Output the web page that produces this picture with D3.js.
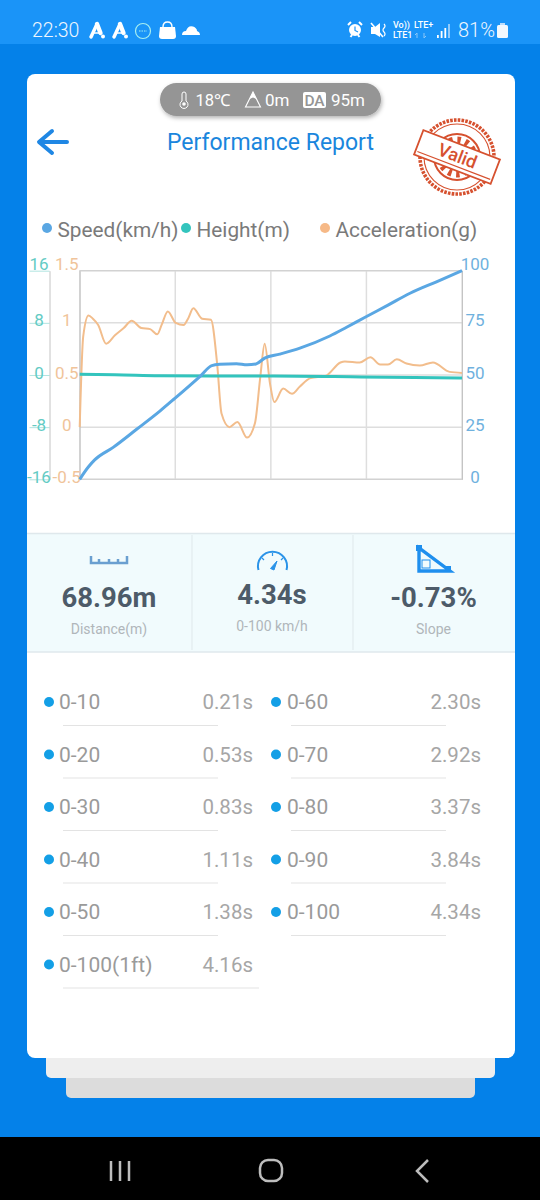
<!DOCTYPE html>
<html>
<head>
<meta charset="utf-8">
<style>
  html, body { margin: 0; padding: 0; background: #0481e9; }
  svg { display: block; }
  text { font-family: Roboto, sans-serif; }
</style>
<script src="https://cdn.jsdelivr.net/npm/d3@7"></script>
</head>
<body>
<script>
'use strict';

// chart values
var speedTime = [0, 0.10, 0.17, 0.38, 0.65, 0.91, 1.08, 1.37, 1.50, 1.59, 1.78, 1.90, 2.00, 2.10, 2.27, 2.50, 2.84, 3.03, 3.24, 3.50, 3.75, 4.05, 4.34];
var speedValues = [0, 6, 9.3, 15.3, 24.1, 32.7, 38.8, 49.5, 54.5, 55.1, 55.4, 54.9, 55.3, 58.1, 60, 62.9, 68.7, 72.9, 77.7, 83.5, 89.2, 94.7, 100];

var heightTime = [0, 0.4, 0.9, 1.5, 2.2, 3.2, 3.8, 4.34];
var heightValues = [0.1, 0.05, -0.1, -0.15, -0.15, -0.3, -0.4, -0.45];

var accelTime = [0, 0.04, 0.10, 0.15, 0.21, 0.30, 0.40, 0.50, 0.59, 0.70, 0.80, 0.88, 0.93, 1.00, 1.09, 1.18, 1.23, 1.29, 1.39, 1.49, 1.56, 1.61, 1.70, 1.79, 1.90, 1.99, 2.05, 2.10, 2.16, 2.21, 2.31, 2.41, 2.50, 2.62, 2.79, 2.96, 3.01, 3.18, 3.30, 3.41, 3.50, 3.60, 3.71, 3.86, 4.01, 4.20, 4.34];
var accelValues = [0, 0.87, 1.07, 1.04, 0.98, 0.80, 0.88, 0.95, 1.02, 0.95, 0.94, 0.89, 0.98, 1.11, 1.00, 0.98, 1.04, 1.14, 1.04, 1.03, 0.61, 0.13, 0, 0.05, -0.10, 0.04, 0.48, 0.80, 0.42, 0.24, 0.37, 0.32, 0.39, 0.47, 0.49, 0.62, 0.63, 0.62, 0.67, 0.60, 0.60, 0.65, 0.61, 0.59, 0.62, 0.53, 0.52];

var speedTicks = [0, 25, 50, 75, 100];
var heightTicks = [-16, -8, 0, 8, 16];
var accelTicks = [-0.5, 0, 0.5, 1, 1.5];
var timeTicks = [1.085, 2.17, 3.255];

var legendLabels = ['Speed(km/h)', 'Height(m)', 'Acceleration(g)'];
var summaryValues = ['68.96m', '4.34s', '-0.73%'];
var summaryLabels = ['Distance(m)', '0-100 km/h', 'Slope'];
var lapLeftLabels = ['0-10', '0-20', '0-30', '0-40', '0-50', '0-100(1ft)'];
var lapLeftTimes = ['0.21s', '0.53s', '0.83s', '1.11s', '1.38s', '4.16s'];
var lapRightLabels = ['0-60', '0-70', '0-80', '0-90', '0-100'];
var lapRightTimes = ['2.30s', '2.92s', '3.37s', '3.84s', '4.34s'];

var SPEED_COLOR = '#5aa7e3', HEIGHT_COLOR = '#33c4bd', ACCEL_COLOR = '#f2bd8c';

var svg = d3.select('body').append('svg').attr('width', 540).attr('height', 1200);

function addText(parent, x, y, str, size, fill, anchor, weight) {
  return parent.append('text')
    .attr('x', x).attr('y', y)
    .attr('font-size', size)
    .attr('fill', fill)
    .attr('text-anchor', anchor || 'start')
    .attr('font-weight', weight || 400)
    .text(str);
}

// BEGIN page background
svg.append('rect').attr('width', 540).attr('height', 1200).attr('fill', '#0481e9');
svg.append('rect').attr('width', 540).attr('height', 44).attr('fill', '#1a94f8');
svg.append('rect').attr('y', 1137).attr('width', 540).attr('height', 63).attr('fill', '#000');
svg.append('rect').attr('x', 66).attr('y', 1060).attr('width', 409).attr('height', 38).attr('rx', 5).attr('fill', '#dcdcdc');
svg.append('rect').attr('x', 46).attr('y', 1040).attr('width', 449).attr('height', 38).attr('rx', 5).attr('fill', '#eeeeee');
svg.append('rect').attr('x', 27).attr('y', 74).attr('width', 488).attr('height', 984).attr('rx', 8).attr('fill', '#fff');
// END page background

// BEGIN status bar
var statusBar = svg.append('g');
addText(statusBar, 32, 36.5, '22:30', 19.5, '#eef6fe', 'start', 300);
[97, 120].forEach(function(x) {
  var a = statusBar.append('g').attr('transform', 'translate(' + x + ',30)');
  a.append('path').attr('d', 'M-6 7L0 -6').attr('stroke', '#fff').attr('stroke-width', 3.4).attr('stroke-linecap', 'round');
  a.append('path').attr('d', 'M0 -6L3.5 3').attr('stroke', '#fff').attr('stroke-width', 4.4).attr('stroke-linecap', 'round');
  a.append('path').attr('d', 'M-3 3H3').attr('stroke', '#fff').attr('stroke-width', 1.5);
  a.append('circle').attr('cx', 6).attr('cy', 6.5).attr('r', 2).attr('fill', '#fff');
});
statusBar.append('circle').attr('cx', 143).attr('cy', 31).attr('r', 7.5).attr('fill', 'none').attr('stroke', '#a6eef0').attr('stroke-width', 1.2);
statusBar.append('path').attr('d', 'M139 31H147').attr('stroke', '#a6eef0').attr('stroke-width', 1).attr('stroke-dasharray', '1.5 1');
statusBar.append('path').attr('d', 'M160 27H175L176 36Q176 39 173 39H162Q159 39 159 36Z').attr('fill', '#fff');
statusBar.append('path').attr('d', 'M163 27Q163 22 167.5 22Q172 22 172 27').attr('fill', 'none').attr('stroke', '#fff').attr('stroke-width', 1.4);
statusBar.append('path').attr('d', 'M182 35Q182 31 186 31Q188 25 193 26.5Q197 28 197 31Q200 32 200 35Z').attr('fill', '#fff');

statusBar.append('circle').attr('cx', 355).attr('cy', 30).attr('r', 6).attr('fill', '#fff');
statusBar.append('path').attr('d', 'M355 26.5V30.5L358 32').attr('fill', 'none').attr('stroke', '#1a94f8').attr('stroke-width', 1.2);
statusBar.append('path').attr('d', 'M348 25L351 22M362 25L359 22M350.5 37L352 35M359.5 37L358 35').attr('stroke', '#fff').attr('stroke-width', 2);
statusBar.append('path').attr('d', 'M371 27H375L380 23V37L375 34H371Z').attr('fill', '#fff');
statusBar.append('path').attr('d', 'M371 23L383 37').attr('stroke', '#fff').attr('stroke-width', 1.6);
statusBar.append('path').attr('d', 'M384 24Q386 26 384 28Q382 30 384 32Q386 34 384 36').attr('fill', 'none').attr('stroke', '#fff').attr('stroke-width', 1.2);
addText(statusBar, 393, 28, 'Vo))', 9, '#fff', 'start', 500);
addText(statusBar, 414, 28, 'LTE+', 9, '#fff', 'start', 500);
addText(statusBar, 393, 38, 'LTE1', 9, '#fff', 'start', 500);
statusBar.append('path').attr('d', 'M417 38V33M415 35L417 33M424 33V38M426 36L424 38').attr('fill', 'none').attr('stroke', '#8cc7f8').attr('stroke-width', 1);
[3, 7, 10, 14].forEach(function(h, i) {
  statusBar.append('rect').attr('x', 437 + i * 3.7).attr('y', 38 - h)
    .attr('width', 1.8).attr('height', h).attr('fill', i < 3 ? '#fff' : '#9fd0fb');
});
addText(statusBar, 458, 36.5, '81%', 20, '#eef6fe', 'start', 300);
statusBar.append('rect').attr('x', 497).attr('y', 25).attr('width', 11).attr('height', 13).attr('rx', 1.5).attr('fill', '#f2f8fe');
statusBar.append('rect').attr('x', 500).attr('y', 23).attr('width', 5).attr('height', 2).attr('fill', '#bcdcfb');
// END status bar

// BEGIN header
var defs = svg.append('defs');
var shadow = defs.append('filter').attr('id', 'pill-shadow').attr('x', '-10%').attr('y', '-30%').attr('width', '120%').attr('height', '170%');
shadow.append('feDropShadow').attr('dx', 1).attr('dy', 2).attr('stdDeviation', 2).attr('flood-color', '#000').attr('flood-opacity', 0.3);

svg.append('rect').attr('x', 160).attr('y', 83).attr('width', 221).attr('height', 33).attr('rx', 16.5)
  .attr('fill', '#959595').attr('filter', 'url(#pill-shadow)');
svg.append('path').attr('d', 'M182 94a2 2 0 0 1 4 0v7a4 4 0 1 1 -4 0Z').attr('fill', 'none').attr('stroke', '#fff').attr('stroke-width', 1);
svg.append('circle').attr('cx', 184).attr('cy', 104).attr('r', 1.8).attr('fill', '#fff');
addText(svg, 195.5, 106, '18℃', 16.5, '#fff');
svg.append('path').attr('d', 'M253 92L245.5 107H260.5Z').attr('fill', 'none').attr('stroke', '#fff').attr('stroke-width', 1.1);
svg.append('path').attr('d', 'M253 92L249.5 99L253 97.5L256.5 99Z').attr('fill', '#fff');
addText(svg, 265, 106, '0m', 17, '#fff');
svg.append('rect').attr('x', 303).attr('y', 92).attr('width', 23).attr('height', 16).attr('rx', 2).attr('fill', '#fff');
addText(svg, 314.5, 105.5, 'DA', 15.5, '#959595', 'middle', 500);
addText(svg, 331, 106, '95m', 17, '#fff');

svg.append('path').attr('d', 'M67 142H40M52 131L39 142L52 153')
  .attr('fill', 'none').attr('stroke', '#1f87e4').attr('stroke-width', 4).attr('stroke-linecap', 'round').attr('stroke-linejoin', 'round');
addText(svg, 270.5, 150, 'Performance Report', 23, '#1a86dd', 'middle');

// stamp
var stamp = svg.append('g').attr('transform', 'translate(457,157)').attr('fill', 'none').attr('stroke', '#d6512f');
stamp.append('circle').attr('r', 37).attr('stroke-width', 3.6).attr('stroke-dasharray', '2.6 1.2');
stamp.append('circle').attr('r', 33).attr('stroke-width', 1.1);
stamp.append('circle').attr('r', 23).attr('stroke-width', 2);
stamp.append('circle').attr('r', 17).attr('stroke-width', 7).attr('stroke-dasharray', '3.4 4.6');
var band = stamp.append('g').attr('transform', 'rotate(21)');
band.append('rect').attr('x', -41).attr('y', -13).attr('width', 82).attr('height', 26).attr('fill', '#fff').attr('stroke-width', 1.8);
band.append('path').attr('d', 'M-39 9H39').attr('stroke-width', 1.1);
addText(band, 0, 5, 'Valid', 18, '#d6512f', 'middle', 500).attr('stroke', 'none');
// END header

// BEGIN legend
var legendX = [47, 186, 325];
legendLabels.forEach(function(label, i) {
  svg.append('circle').attr('cx', legendX[i]).attr('cy', 228).attr('r', 5)
    .attr('fill', [SPEED_COLOR, HEIGHT_COLOR, '#f6b987'][i]);
  addText(svg, legendX[i] + 10.5, 236.5, label, 20.8, '#7a7a7a');
});
// END legend

// BEGIN chart
var plot = {left: 79.7, right: 462, top: 270.7, bottom: 479.3};
var timeScale = d3.scaleLinear().domain([0, 4.34]).range([plot.left, plot.right]);
var speedScale = d3.scaleLinear().domain([0, 100]).range([plot.bottom, plot.top]);
var heightScale = d3.scaleLinear().domain([-16, 16]).range([plot.bottom, plot.top]);
var accelScale = d3.scaleLinear().domain([-0.5, 1.5]).range([plot.bottom, plot.top]);

var grid = svg.append('g').attr('stroke', '#dedede').attr('stroke-width', 1.5);
grid.selectAll('.v').data(timeTicks).enter().append('line').attr('class', 'v')
  .attr('x1', d => timeScale(d)).attr('x2', d => timeScale(d))
  .attr('y1', plot.top).attr('y2', plot.bottom);
grid.selectAll('.h').data(accelTicks).enter().append('line').attr('class', 'h')
  .attr('x1', plot.left).attr('x2', plot.right)
  .attr('y1', d => accelScale(d)).attr('y2', d => accelScale(d));
svg.append('rect').attr('x', plot.left).attr('y', plot.top)
  .attr('width', plot.right - plot.left).attr('height', plot.bottom - plot.top)
  .attr('fill', 'none').attr('stroke', '#cfcfcf').attr('stroke-width', 1);

function styleAxis(sel, color, textX, anchor) {
  var count = sel.selectAll('.tick').size();
  sel.select('.domain').attr('stroke', '#c4c4c4').attr('stroke-width', 1);
  sel.selectAll('.tick line').attr('stroke', color).attr('stroke-opacity', 0.5);
  sel.selectAll('.tick text')
    .attr('x', textX).attr('dy', null)
    .attr('y', (d, i) => i === count - 1 ? -1 : 3)
    .attr('fill', color)
    .attr('font-size', 17)
    .attr('font-family', 'Roboto, sans-serif')
    .attr('text-anchor', anchor);
}

var plainNumber = d => String(d);

var heightAxis = svg.append('g').attr('transform', 'translate(49.5,0)')
  .call(d3.axisLeft(heightScale).tickValues(heightTicks).tickFormat(plainNumber).tickSize(20).tickPadding(0).tickSizeOuter(0));
styleAxis(heightAxis, '#63cbc4', -10.5, 'middle');

var accelAxis = svg.append('g').attr('transform', 'translate(' + plot.left + ',0)')
  .call(d3.axisLeft(accelScale).tickValues(accelTicks).tickFormat(plainNumber).tickSize(0).tickPadding(0).tickSizeOuter(0));
styleAxis(accelAxis, '#f0c49a', -13, 'middle');

var speedAxis = svg.append('g').attr('transform', 'translate(' + plot.right + ',0)')
  .call(d3.axisRight(speedScale).tickValues(speedTicks).tickFormat(plainNumber).tickSize(0).tickPadding(0).tickSizeOuter(0));
styleAxis(speedAxis, '#6fb1de', 13, 'middle');

function drawSeries(times, values, yScale, color, width) {
  var line = d3.line()
    .x((d, i) => timeScale(times[i]))
    .y(d => yScale(d))
    .curve(d3.curveMonotoneX);
  svg.append('path').datum(values)
    .attr('d', line)
    .attr('fill', 'none')
    .attr('stroke', color)
    .attr('stroke-width', width)
    .attr('stroke-linejoin', 'round');
}
drawSeries(accelTime, accelValues, accelScale, ACCEL_COLOR, 2);
drawSeries(heightTime, heightValues, heightScale, HEIGHT_COLOR, 3);
drawSeries(speedTime, speedValues, speedScale, SPEED_COLOR, 3);
// END chart

// BEGIN summary panel
svg.append('rect').attr('x', 27).attr('y', 534).attr('width', 488).attr('height', 118).attr('fill', '#f1fbfd');
svg.append('line').attr('x1', 27).attr('x2', 515).attr('y1', 533.5).attr('y2', 533.5).attr('stroke', '#dfe8ec').attr('stroke-width', 1.5);
svg.append('line').attr('x1', 27).attr('x2', 515).attr('y1', 652).attr('y2', 652).attr('stroke', '#dfe8ec').attr('stroke-width', 1.5);
[192, 353].forEach(function(x) {
  svg.append('line').attr('x1', x).attr('x2', x).attr('y1', 535).attr('y2', 650).attr('stroke', '#e3ecef').attr('stroke-width', 1.2);
});
var summaryX = [109, 272, 433.5];
var summaryValueY = [607, 604, 607];
var summaryLabelY = [634, 631, 634];
summaryValues.forEach(function(v, i) {
  addText(svg, summaryX[i], summaryValueY[i], v, 27.5, '#4d5b69', 'middle', 700);
  addText(svg, summaryX[i], summaryLabelY[i], summaryLabels[i], 14, '#b0b6ba', 'middle');
});
svg.append('path').attr('d', 'M91 556V563H127V556M99 559V563M109 559V563M118 559V563')
  .attr('fill', 'none').attr('stroke', '#6a9fd0').attr('stroke-width', 2.5);
svg.append('path').attr('d', 'M258.5 570A14.5 14.5 0 1 1 286.5 570').attr('fill', 'none').attr('stroke', '#2a93e8').attr('stroke-width', 2);
svg.append('path').attr('d', 'M270.5 568.5L277 561L274 570Z').attr('fill', '#2a93e8').attr('stroke', '#2a93e8').attr('stroke-width', 1);
svg.append('path').attr('d', 'M272.5 553V556M262 558L264 560M283 558L281 560').attr('stroke', '#2a93e8').attr('stroke-width', 1.2);
svg.append('path').attr('d', 'M419 548V571H450Z').attr('fill', 'none').attr('stroke', '#1f8fee').attr('stroke-width', 3.4);
svg.append('rect').attr('x', 422).attr('y', 560).attr('width', 8).attr('height', 8).attr('fill', 'none').attr('stroke', '#1f8fee').attr('stroke-width', 1);
svg.append('rect').attr('x', 416).attr('y', 545).attr('width', 6).attr('height', 6).attr('fill', '#1f8fee');
svg.append('rect').attr('x', 445).attr('y', 566).attr('width', 6).attr('height', 6).attr('fill', '#1f8fee');
// END summary panel

// BEGIN lap times
var rowY = [702, 754.5, 807, 859.5, 912, 964.5];
function drawLaps(labels, times, dotX, textX, valueX, ruleX1, ruleX2) {
  labels.forEach(function(label, i) {
    svg.append('circle').attr('cx', dotX).attr('cy', rowY[i]).attr('r', 5).attr('fill', '#139fe6');
    addText(svg, textX, rowY[i] + 7, label, 21, '#9a9a9a');
    addText(svg, valueX, rowY[i] + 7, times[i], 20.5, '#a6a6a6', 'end');
    svg.append('line').attr('x1', ruleX1).attr('x2', i === 5 ? 259 : ruleX2)
      .attr('y1', rowY[i] + 23.5).attr('y2', rowY[i] + 23.5)
      .attr('stroke', '#e3e3e3').attr('stroke-width', 1);
  });
}
drawLaps(lapLeftLabels, lapLeftTimes, 49, 59, 253, 63, 218);
drawLaps(lapRightLabels, lapRightTimes, 276, 287, 481, 291, 446);
// END lap times

// BEGIN nav bar
var nav = svg.append('g').attr('fill', 'none').attr('stroke', '#bdbdbd').attr('stroke-width', 2.5);
nav.append('path').attr('d', 'M111 1161V1181M120 1161V1181M129 1161V1181');
nav.append('rect').attr('x', 260).attr('y', 1160).attr('width', 22).attr('height', 21).attr('rx', 8);
nav.append('path').attr('d', 'M428 1160L417 1171L428 1182');
// END nav bar
</script>
</body>
</html>
